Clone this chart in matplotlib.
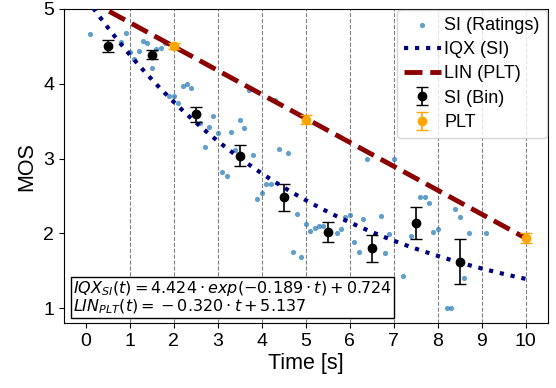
import numpy as np
import matplotlib
matplotlib.use('Agg')
import matplotlib.pyplot as plt

plt.rcParams['font.family'] = ['Liberation Sans', 'DejaVu Sans']

# individual ratings (time [s], MOS)
rating_t = [0.1, 0.8, 0.9, 1.0, 1.1, 1.2, 1.3, 1.4, 1.5, 1.6, 1.7, 1.8, 1.9, 2.0, 2.1, 2.2, 2.3, 2.4,
            2.6, 2.7, 2.8, 2.9, 3.0, 3.1, 3.2, 3.3, 3.4, 3.5, 3.6, 3.7, 3.8, 3.9, 4.0, 4.1, 4.2, 4.3,
            4.4, 4.6, 4.7, 4.8, 4.9, 5.0, 5.1, 5.2, 5.3, 5.4, 5.7, 5.8, 5.9, 6.0, 6.1, 6.2, 6.3, 6.4,
            6.7, 6.8, 6.9, 7.0, 7.2, 7.4, 7.6, 7.7, 7.8, 7.9, 8.0, 8.2, 8.3, 8.4, 8.5, 8.6, 8.7, 9.1]
rating_mos = [4.66, 4.56, 4.68, 4.43, 4.33, 4.44, 4.57, 4.55, 4.21, 4.47, 4.48, 4.54, 3.84, 3.83, 3.74, 3.97, 4.00, 3.94,
              3.47, 3.16, 3.42, 3.57, 3.34, 2.82, 2.77, 3.35, 3.12, 3.52, 3.41, 3.92, 3.05, 2.46, 2.54, 2.66, 2.66, 3.78,
              3.13, 3.08, 1.75, 2.26, 1.69, 2.13, 2.03, 2.07, 2.10, 2.10, 2.01, 2.06, 2.22, 2.25, 1.89, 1.75, 2.19, 3.00,
              2.23, 1.74, 1.99, 3.00, 1.43, 1.97, 2.49, 2.49, 2.40, 2.02, 2.06, 1.00, 1.00, 2.33, 2.22, 1.41, 2.00, 2.00]

# binned SI values
bin_t = [0.5, 1.5, 2.5, 3.5, 4.5, 5.5, 6.5, 7.5, 8.5]
bin_mos = [4.51, 4.39, 3.59, 3.04, 2.48, 2.02, 1.80, 2.14, 1.62]
bin_err = [0.08, 0.055, 0.10, 0.14, 0.175, 0.13, 0.18, 0.21, 0.30]

# PLT values
plt_t = [2, 5, 10]
plt_mos = [4.51, 3.52, 1.94]
plt_err = [0.04, 0.06, 0.07]

# fitted models
iqx_a, iqx_b, iqx_c = 4.424, 0.189, 0.724
lin_m, lin_b = -0.320, 5.137

fig, ax = plt.subplots(figsize=(5.56, 3.88), dpi=100)

for g in range(1, 11):
    ax.axvline(g, color='gray', linestyle='--', linewidth=0.8, zorder=0)

t = np.linspace(0, 10, 200)
ax.scatter(rating_t, rating_mos, s=14, color='C0', alpha=0.7, linewidths=0, label='SI (Ratings)', zorder=2)
ax.plot(t, iqx_a * np.exp(-iqx_b * t) + iqx_c, linestyle=':', color='navy', linewidth=3, label='IQX (SI)', zorder=3)
ax.plot(t, lin_m * t + lin_b, linestyle='--', color='darkred', linewidth=3.5, label='LIN (PLT)', zorder=3)
ax.errorbar(bin_t, bin_mos, yerr=bin_err, fmt='o', color='black', markersize=6, capsize=4, elinewidth=1.2,
            label='SI (Bin)', zorder=4)
ax.errorbar(plt_t, plt_mos, yerr=plt_err, fmt='o', color='orange', markersize=6, capsize=4, elinewidth=1.2,
            label='PLT', zorder=4)

ax.set_xlim(-0.5, 10.5)
ax.set_ylim(0.8, 5)
ax.set_xticks(range(0, 11))
ax.set_yticks(range(1, 6))
ax.tick_params(labelsize=14)
ax.set_xlabel('Time [s]', fontsize=15.5, labelpad=2)
ax.set_ylabel('MOS', fontsize=15.5)

txt = ('$IQX_{SI}(t) = 4.424 \\cdot exp(-0.189 \\cdot t) + 0.724$\n'
       '$LIN_{PLT}(t) = {} - 0.320 \\cdot t + 5.137$')
ax.text(0.019, 0.022, txt, transform=ax.transAxes, fontsize=11.5, va='bottom', ha='left', linespacing=1.0,
        bbox=dict(boxstyle='square,pad=0.12', facecolor='white', edgecolor='black'), zorder=5)

ax.legend(loc='upper right', fontsize=13, handlelength=2.0, handletextpad=0.2, borderaxespad=0.05,
          labelspacing=0.4)

plt.subplots_adjust(left=0.115, right=0.985, top=0.977, bottom=0.167)
plt.savefig('out.png')
